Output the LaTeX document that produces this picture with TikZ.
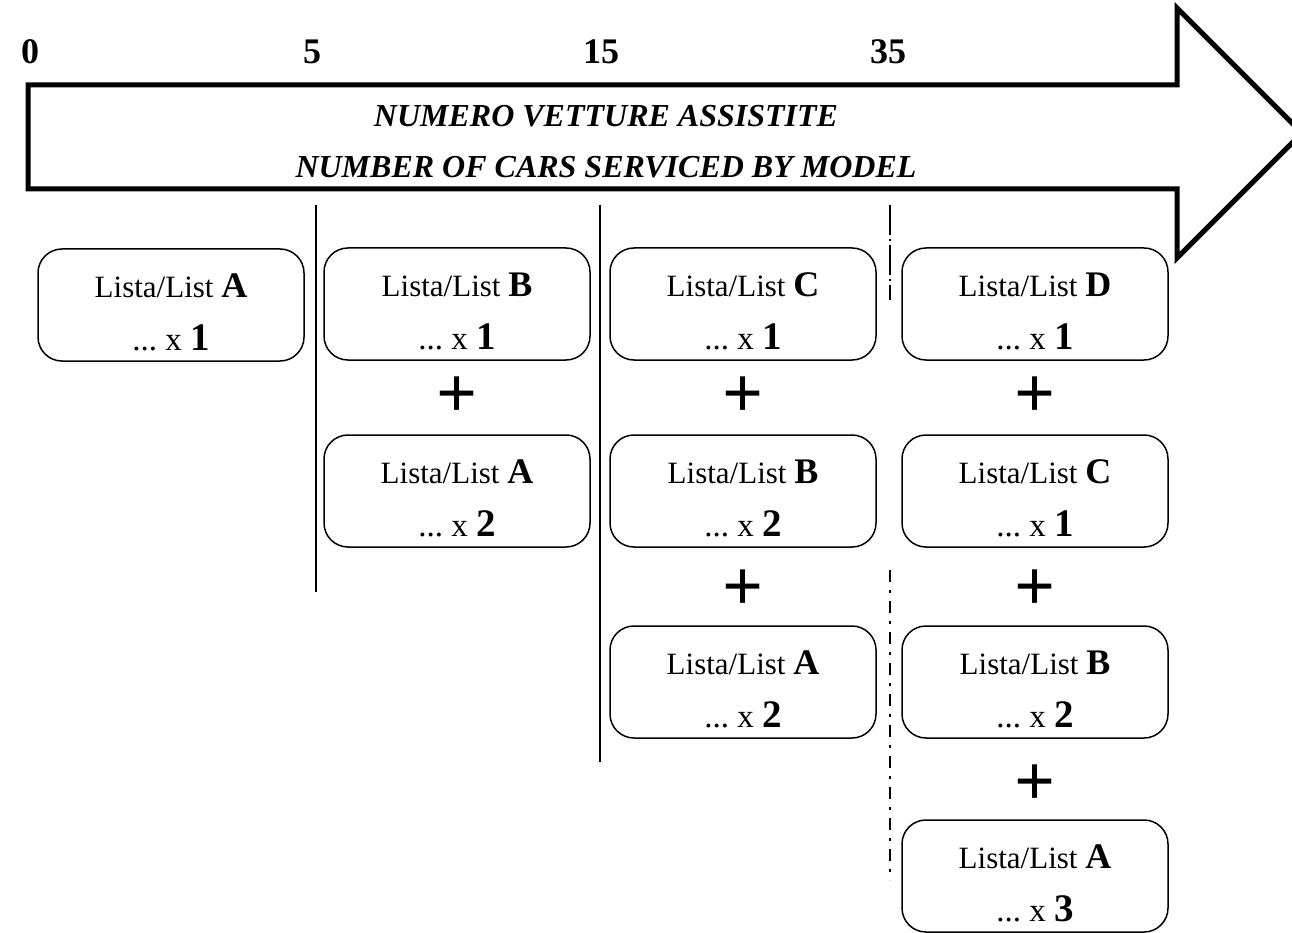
\documentclass[tikz,border=0pt]{standalone}
\usepackage{fontspec}
\setmainfont{Liberation Serif}
\newcommand\lstbox[2]{\rule{0pt}{38pt}Lista/List {\fontsize{36}{55}\selectfont\bfseries #1}\\[-4pt]{\fontsize{33}{55}\selectfont ...\ x\ }{\fontsize{39}{55}\selectfont\bfseries #2}}
\begin{document}
\begin{tikzpicture}[x=1pt,y=-1pt,
  box/.style={draw, line width=1.5pt, rounded corners=24pt, minimum width=266pt, minimum height=112pt, align=center, inner sep=0pt, font=\fontsize{31}{57}\selectfont},
  plus/.style={inner sep=0pt, font=\fontsize{72}{72}\selectfont\bfseries},
  num/.style={anchor=base, inner sep=0pt, font=\fontsize{36}{36}\selectfont\bfseries},
  title/.style={anchor=base, inner sep=0pt, font=\fontsize{32}{32}\selectfont\bfseries\itshape},
  sep/.style={line width=1.2pt}]
\useasboundingbox (0,0) rectangle (1292,933);
% arrow
\draw[line width=5pt] (28,85) -- (1177,85) -- (1177,8) -- (1302,133) -- (1177,258) -- (1177,189) -- (28,189) -- cycle;
\node[num] (n0) at (30,64) {0};
\node[num] (n5) at (312,64) {5};
\node[num] (n15) at (601,64) {15};
\node[num] (n35) at (888,64) {35};
\node[title] (t1) at (606,127) {NUMERO VETTURE ASSISTITE};
\node[title] (t2) at (606,178) {NUMBER OF CARS SERVICED BY MODEL};
% separators
\draw[sep] (316,205) -- (316,592);
\draw[sep] (600,205) -- (600,762);
\draw[sep, dash pattern=on 30pt off 4pt on 2pt off 4pt] (890,205) -- (890,300);
\draw[sep, dash pattern=on 12pt off 8pt on 3pt off 8pt] (890,570) -- (890,880);
% column 1
\node[box] (a1) at (171,305) {\lstbox{A}{1}};
% column 2
\node[box] (b1) at (457,304) {\lstbox{B}{1}};
\node[plus] (pb1) at (457,397) {+};
\node[box] (b2) at (457,491) {\lstbox{A}{2}};
% column 3
\node[box] (c1) at (743,304) {\lstbox{C}{1}};
\node[plus] (pc1) at (743,397) {+};
\node[box] (c2) at (743,491) {\lstbox{B}{2}};
\node[plus] (pc2) at (743,590) {+};
\node[box] (c3) at (743,682) {\lstbox{A}{2}};
% column 4
\node[box] (d1) at (1035,304) {\lstbox{D}{1}};
\node[plus] (pd1) at (1035,397) {+};
\node[box] (d2) at (1035,491) {\lstbox{C}{1}};
\node[plus] (pd2) at (1035,590) {+};
\node[box] (d3) at (1035,682) {\lstbox{B}{2}};
\node[plus] (pd3) at (1035,785) {+};
\node[box] (d4) at (1035,876) {\lstbox{A}{3}};
\end{tikzpicture}
\end{document}
